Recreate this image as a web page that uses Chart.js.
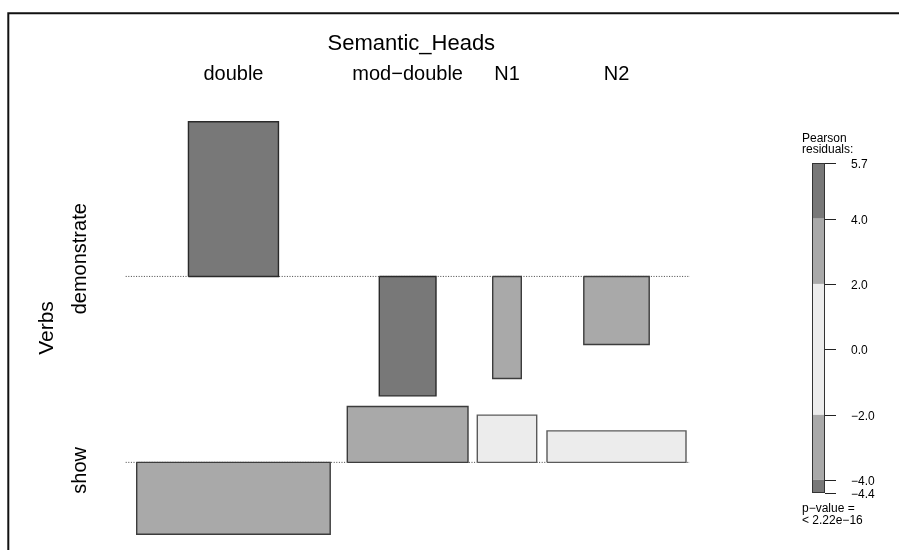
<!DOCTYPE html>
<html>
<head>
<meta charset="utf-8">
<title>Association plot: Verbs by Semantic_Heads</title>
<script src="https://cdn.jsdelivr.net/npm/chart.js@4.4.1/dist/chart.umd.min.js"></script>
<style>
  html, body { margin: 0; padding: 0; background: #fff; }
  #assoc-chart { display: block; }
</style>
</head>
<body>
<canvas id="assoc-chart" width="899" height="550"></canvas>
<script>
// values
const semanticHeads = ['double', 'mod\u2212double', 'N1', 'N2'];
const verbs = ['demonstrate', 'show'];

// Pearson residuals (signed bar heights)
const residualsDemonstrate = [5.70, -4.40, -3.76, -2.51];
const residualsShow = [-2.65, 2.06, 1.74, 1.16];

// bar widths, proportional to sqrt(expected count)
const widthsDemonstrate = [9.00, 5.67, 2.86, 6.54];
const widthsShow = [19.35, 12.07, 5.94, 13.90];

// legend
const legendTicks = [5.7, 4.0, 2.0, 0.0, -2.0, -4.0, -4.4];
const shadingLevels = [2, 4];
const pValueLines = ['p\u2212value =', '< 2.22e\u221216'];

// layout (units of the x / y scales)
const colGaps = [1.71, 0.93, 1.03];
const rowGap = 0.39;

const FONT = '"Liberation Sans", Arial, Helvetica, sans-serif';
const minus = s => s.replace('-', '\u2212');

const residuals = [residualsDemonstrate, residualsShow];
const widths = [widthsDemonstrate, widthsShow];

// column centres from the widest cell of every column
const colWidths = semanticHeads.map((_, j) => Math.max(widthsDemonstrate[j], widthsShow[j]));
const colCenters = [];
let cursor = 0;
colWidths.forEach((w, j) => {
    colCenters.push(cursor + w / 2);
    cursor += w + (j < colGaps.length ? colGaps[j] : 0);
});
const totalWidth = cursor;

// row baselines, stacked downwards
const rowMax = residuals.map(r => Math.max(0, ...r));
const rowMin = residuals.map(r => Math.min(0, ...r));
const rowBases = [0];
for (let i = 1; i < verbs.length; i++) {
    rowBases.push(rowBases[i - 1] + rowMin[i - 1] - rowGap - rowMax[i]);
}
const yMax = rowMax[0];
const yMin = rowBases[verbs.length - 1] + rowMin[verbs.length - 1];

function shadeFill(r) {
    const a = Math.abs(r);
    if (a > shadingLevels[1]) return '#787878';
    if (a > shadingLevels[0]) return '#a9a9a9';
    return '#ececec';
}
function shadeBorder(r) {
    const a = Math.abs(r);
    if (a > shadingLevels[1]) return '#2a2a2a';
    if (a > shadingLevels[0]) return '#3c3c3c';
    return '#5a5a5a';
}

const datasets = [];

// one closed rectangle per cell
verbs.forEach((verb, i) => {
    semanticHeads.forEach((head, j) => {
        const r = residuals[i][j];
        const w = widths[i][j];
        const base = rowBases[i];
        const x0 = colCenters[j] - w / 2;
        const x1 = colCenters[j] + w / 2;
        datasets.push({
            label: verb + ' / ' + head,
            data: [
                { x: x0, y: base },
                { x: x0, y: base + r },
                { x: x1, y: base + r },
                { x: x1, y: base },
                { x: x0, y: base }
            ],
            fill: 'shape',
            backgroundColor: shadeFill(r),
            borderColor: shadeBorder(r),
            borderWidth: 1.4,
            borderJoinStyle: 'miter',
            pointRadius: 0,
            tension: 0,
            clip: false,
            order: 0
        });
    });
});

// dotted baselines behind the bars
rowBases.forEach((base, i) => {
    datasets.push({
        label: verbs[i] + ' baseline',
        data: [{ x: -1.1, y: base }, { x: totalWidth + 0.4, y: base }],
        fill: false,
        borderColor: '#444444',
        borderWidth: 1,
        borderDash: [1, 1.6],
        pointRadius: 0,
        clip: false,
        order: 10
    });
});

// labels, shading legend and frame
const decorPlugin = {
    id: 'assocDecor',
    afterDraw(chart) {
        const ctx = chart.ctx;
        const xs = chart.scales.x;
        const ys = chart.scales.y;
        const area = chart.chartArea;
        ctx.save();

        // frame
        ctx.strokeStyle = '#111';
        ctx.lineWidth = 2;
        ctx.beginPath();
        ctx.moveTo(8.3, chart.height);
        ctx.lineTo(8.3, 13.3);
        ctx.lineTo(chart.width, 13.3);
        ctx.stroke();

        ctx.fillStyle = '#000';
        ctx.textBaseline = 'alphabetic';

        // top variable name and levels
        ctx.textAlign = 'center';
        ctx.font = '22px ' + FONT;
        ctx.fillText('Semantic_Heads', (area.left + area.right) / 2, 50);
        ctx.font = '20px ' + FONT;
        semanticHeads.forEach((head, j) => {
            ctx.fillText(head, xs.getPixelForValue(colCenters[j]), 80);
        });

        // left variable name and levels (rotated)
        const rotated = (text, x, y) => {
            ctx.save();
            ctx.translate(x, y);
            ctx.rotate(-Math.PI / 2);
            ctx.fillText(text, 0, 0);
            ctx.restore();
        };
        ctx.font = '21px ' + FONT;
        rotated('Verbs', 53, (area.top + area.bottom) / 2);
        ctx.font = '20px ' + FONT;
        verbs.forEach((verb, i) => {
            const mid = rowBases[i] + (rowMax[i] + rowMin[i]) / 2;
            rotated(verb, 86, ys.getPixelForValue(mid));
        });

        // shading legend
        const lgTop = 163, lgBottom = 493, lgLeft = 812, lgRight = 825;
        const lgMax = Math.max(...legendTicks), lgMin = Math.min(...legendTicks);
        const lgY = v => lgTop + (lgMax - v) / (lgMax - lgMin) * (lgBottom - lgTop);
        const bands = [lgMin, -shadingLevels[1], -shadingLevels[0], shadingLevels[0], shadingLevels[1], lgMax];
        for (let k = 0; k < bands.length - 1; k++) {
            const mid = (bands[k] + bands[k + 1]) / 2;
            ctx.fillStyle = shadeFill(mid);
            ctx.fillRect(lgLeft, lgY(bands[k + 1]), lgRight - lgLeft, lgY(bands[k]) - lgY(bands[k + 1]));
        }
        ctx.strokeStyle = '#333';
        ctx.lineWidth = 1;
        ctx.strokeRect(lgLeft + 0.5, lgTop + 0.5, lgRight - lgLeft - 1, lgBottom - lgTop - 1);

        ctx.textAlign = 'left';
        ctx.font = '12px ' + FONT;
        ctx.fillStyle = '#000';
        ctx.fillText('Pearson', 802, 142);
        ctx.fillText('residuals:', 802, 153);

        ctx.strokeStyle = '#222';
        ctx.textBaseline = 'middle';
        legendTicks.forEach(v => {
            const y = Math.round(lgY(v)) + 0.5;
            ctx.beginPath();
            ctx.moveTo(lgRight, y);
            ctx.lineTo(836, y);
            ctx.stroke();
            ctx.fillText(minus(v.toFixed(1)), 851, y + 1);
        });

        ctx.textBaseline = 'alphabetic';
        ctx.fillText(pValueLines[0], 802, 512);
        ctx.fillText(pValueLines[1], 802, 524);

        ctx.restore();
    }
};

new Chart(document.getElementById('assoc-chart'), {
    type: 'line',
    data: { datasets: datasets },
    options: {
        responsive: false,
        animation: false,
        devicePixelRatio: 1,
        layout: {
            padding: { left: 136.7, right: 899 - 686, top: 121.7, bottom: 550 - 534.3 }
        },
        scales: {
            x: { type: 'linear', display: false, min: 0, max: totalWidth },
            y: { type: 'linear', display: false, min: yMin, max: yMax }
        },
        plugins: {
            legend: { display: false },
            tooltip: { enabled: false }
        }
    },
    plugins: [decorPlugin]
});
</script>
</body>
</html>
